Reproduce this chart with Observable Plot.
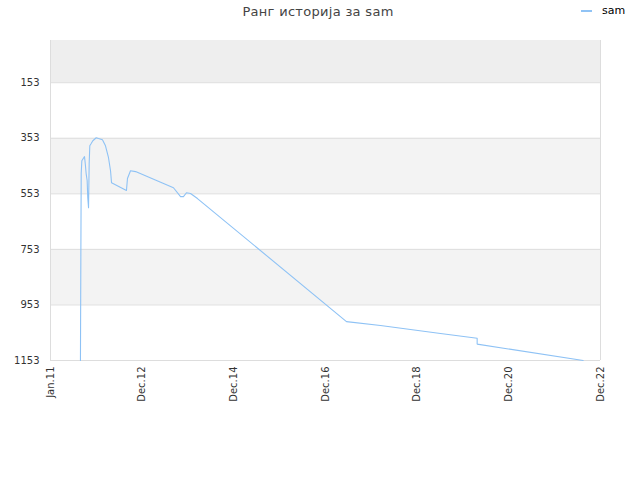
<!DOCTYPE html>
<html>
<head>
<meta charset="utf-8">
<script src="https://cdn.jsdelivr.net/npm/d3@7"></script>
<script src="https://cdn.jsdelivr.net/npm/@observablehq/plot@0.6"></script>
<style>
  body { margin: 0; background: #fff; }
  #wrap { position: relative; width: 640px; height: 480px; font-family: "DejaVu Sans", sans-serif; }
  #title { position: absolute; left: 0; width: 636px; top: 4px; text-align: center; font-size: 13px; color: #444; letter-spacing: 0.3px; }
  #legend { position: absolute; left: 581px; top: 4px; font-size: 11px; color: #000; display: flex; align-items: center; }
  #legend .sw { width: 11px; height: 2px; background: #90c3f5; margin-right: 10px; }
</style>
</head>
<body>
<div id="wrap">
  <div id="title">Ранг историја за sam</div>
  <div id="legend"><span class="sw"></span><span>sam</span></div>
</div>
<script>
const seriesName = "sam";
const dates = [
  "2011-08-26","2011-08-29","2011-09-01","2011-09-06","2011-09-21","2011-09-27",
  "2011-10-03","2011-10-10","2011-10-18","2011-10-23","2011-10-29","2011-11-03",
  "2011-11-08","2011-11-19","2011-12-02","2011-12-29","2012-01-16","2012-02-16",
  "2012-03-11","2012-04-04","2012-04-20","2012-04-28","2012-08-24","2012-09-01",
  "2012-09-25","2012-11-04","2013-08-31","2013-10-26","2013-11-18","2013-12-12",
  "2014-01-13","2014-03-09","2017-05-31","2018-02-24","2019-06-14","2020-03-30",
  "2020-03-30","2022-07-17"
];
const ranks = [
  1153, 800, 480, 434, 423, 419,
  444, 480, 505, 567, 603, 444,
  380, 372, 362, 351, 354, 358,
  380, 423, 470, 513, 541, 498,
  470, 473, 531, 563, 563, 549,
  552, 570, 1013, 1027, 1056, 1073,
  1094, 1153
];
const yTicks = [153, 353, 553, 753, 953, 1153];
const bands = [[1, 153, "#eeeeee"], [353, 553, "#f3f3f3"], [753, 953, "#f3f3f3"]];
const xStart = new Date("2011-01-01");
const xEnd = new Date("2022-12-01");

const data = dates.map((d, i) => ({date: new Date(d), rank: ranks[i]}));
const bandData = bands.map(([a, b, c]) => ({y1: a, y2: b, fill: c}));
const nTicks = 6;
const xTicks = d3.range(nTicks + 1).map(i => new Date(+xStart + (xEnd - xStart) * i / nTicks));
const fmt = d3.timeFormat("%b.%y");

const chart = Plot.plot({
  width: 640,
  height: 480,
  marginTop: 40,
  marginBottom: 120,
  marginLeft: 50,
  marginRight: 40,
  style: {fontFamily: "DejaVu Sans, sans-serif", fontSize: "10px", color: "#333", background: "transparent"},
  x: {type: "utc", domain: [xStart, xEnd], ticks: xTicks, tickFormat: fmt, tickRotate: -90, tickSize: 0, tickPadding: 6, label: null},
  y: {domain: [1153, 1], ticks: yTicks, tickFormat: d => String(d), tickSize: 0, tickPadding: 11, label: null},
  marks: [
    Plot.rectY(bandData, {x1: xStart, x2: xEnd, y1: "y1", y2: "y2", fill: d => d.fill}),
    Plot.ruleY(yTicks, {stroke: "#dddddd", strokeWidth: 1}),
    Plot.ruleX([xStart, xEnd], {stroke: "#dddddd", strokeWidth: 1}),
    Plot.line(data, {x: "date", y: "rank", stroke: "#8ec2f5", strokeWidth: 1.1})
  ]
});
chart.style.position = "absolute";
chart.style.left = "0";
chart.style.top = "0";
document.getElementById("wrap").prepend(chart);
</script>
</body>
</html>
